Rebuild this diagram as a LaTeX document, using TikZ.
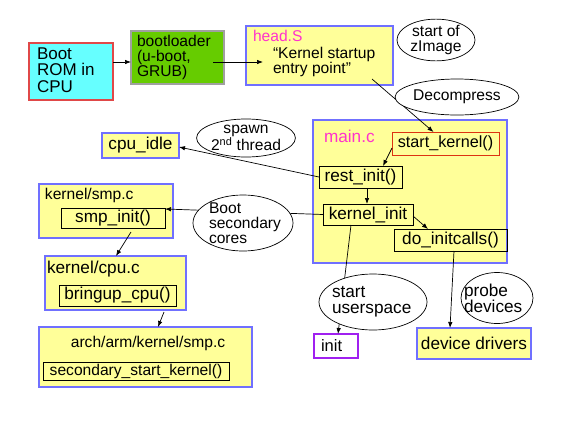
\documentclass[tikz,border=0pt]{standalone}
\usepackage{fontspec}
\setmainfont{Liberation Sans}
\usetikzlibrary{arrows.meta,shapes.geometric}
\definecolor{yfill}{HTML}{FFFF99}
\definecolor{bluebd}{HTML}{7070FF}
\definecolor{cyanfill}{HTML}{66FFFF}
\definecolor{romred}{HTML}{E04848}
\definecolor{greenfill}{HTML}{66CC00}
\definecolor{graybd}{HTML}{A0A0A0}
\definecolor{magtext}{HTML}{FF33CC}
\definecolor{skred}{HTML}{DD3311}
\definecolor{purplebd}{HTML}{A020F0}
\begin{document}
\begin{tikzpicture}[x=1pt,y=-1pt,
  every node/.style={font=\fontsize{15.6}{15}\selectfont, inner sep=0pt, outer sep=0pt},
  big/.style={font=\fontsize{17.2}{16.2}\selectfont},
  ybox/.style={draw=bluebd, line width=1.8pt, fill=yfill, rectangle},
  ibox/.style={draw=black, line width=0.9pt, rectangle},
  oval/.style={draw=black, line width=0.7pt, fill=white, ellipse},
  txt/.style={anchor=west, align=left},
  ctxt/.style={align=center},
  fname/.style={anchor=west, text=magtext},
  arr/.style={draw=black, line width=0.7pt, -{Latex[length=6pt,width=4.5pt]}}
]
\useasboundingbox (0,0) rectangle (576,432);

% boxes
\node[draw=romred, line width=1.6pt, fill=cyanfill, minimum width=84pt, minimum height=57pt] (bootrom) at (71,71.5) {};
\node[txt, big, font=\fontsize{17}{16.5}\selectfont] (bootromt) at (37,70) {Boot\\ROM in\\CPU};

\node[draw=graybd, line width=1.4pt, fill=greenfill, minimum width=93pt, minimum height=53pt] (bootloader) at (177.5,57.5) {};
\node[txt] (bootloadert) at (137,57) {bootloader\\(u-boot,\\GRUB)};

\node[ybox, minimum width=147pt, minimum height=59pt] (headS) at (319.5,55.5) {};
\node[fname] (headSt) at (253,36) {head.S};
\node[txt] (kentry) at (273,62) {“Kernel startup\\entry point”};

\node[ybox, minimum width=194pt, minimum height=143pt] (mainc) at (410,191.5) {};
\node[fname, big] (maint) at (324,136) {main.c};
\node[draw=skred, line width=1pt, rectangle, minimum width=107pt, minimum height=23pt, font=\fontsize{16.2}{16}\selectfont] (startk) at (445.5,143.5) {start\_kernel()};
\node[ibox, big, minimum width=83pt, minimum height=22pt] (restinit) at (360.5,177) {rest\_init()};
\node[ibox, big, minimum width=90pt, minimum height=21pt] (kinit) at (368,214.5) {kernel\_init};
\node[ibox, big, minimum width=113pt, minimum height=22pt] (doinit) at (450.5,240) {do\_initcalls()};

\node[ybox, big, minimum width=77pt, minimum height=25pt] (cpuidle) at (140.5,145.5) {cpu\_idle};

\node[ybox, minimum width=134pt, minimum height=54pt] (smpc) at (106,211) {};
\node[txt] (smpct) at (45,195) {kernel/smp.c};
\node[ibox, big, minimum width=104pt, minimum height=20pt] (smpinit) at (113,218) {smp\_init()};

\node[ybox, minimum width=141pt, minimum height=54pt] (cpuc) at (115.5,283) {};
\node[txt, big] (cpuct) at (47,269) {kernel/cpu.c};
\node[ibox, big, minimum width=117pt, minimum height=21pt] (bringup) at (117.5,295.5) {bringup\_cpu()};

\node[ybox, minimum width=213pt, minimum height=60pt] (archsmp) at (145.5,357) {};
\node[ctxt] (archsmpt) at (148,343) {arch/arm/kernel/smp.c};
\node[ibox, minimum width=186pt, minimum height=18pt] (secstart) at (136,371) {secondary\_start\_kernel()};

\node[draw=purplebd, line width=1.6pt, fill=white, minimum width=44pt, minimum height=24pt] (init) at (336,346) {};
\node[txt, font=\fontsize{16.5}{16}\selectfont] (initt) at (321,346) {init};

\node[ybox, big, minimum width=114pt, minimum height=31pt] (devdrv) at (474,343.5) {device drivers};

% connectors
\draw[arr] ([yshift=9.5pt]bootrom.east) -- ([yshift=-4.5pt]bootloader.west);
\draw[arr] ([xshift=-11pt,yshift=-4.5pt]bootloader.east) -- ([xshift=-10pt]kentry.west);
\draw[arr] ([xshift=52.5pt,yshift=-23.5pt]headS.center) -- ([xshift=-12pt]startk.north);
\draw[arr] ([yshift=-4.5pt]startk.west) -- ([xshift=22.5pt]restinit.north);
\draw[arr] ([xshift=6.5pt]restinit.south) -- ([xshift=6.5pt]restinit.south |- kinit.north);
\draw[arr] ([yshift=-1.5pt]kinit.east) -- ([xshift=-22.5pt]doinit.north);
\draw[arr] (restinit.west) -- ([yshift=-1.5pt]cpuidle.east);
\draw[arr] (kinit.west) -- ([yshift=9pt]smpinit.east);
\draw[arr] ([xshift=18pt,yshift=-4pt]smpinit.south) -- ([xshift=0.5pt]cpuc.north);
\draw[arr] ([xshift=46.5pt,yshift=-6pt]bringup.south) -- ([xshift=12.5pt]archsmp.north);
\draw[arr] ([xshift=-17pt]kinit.south) -- ([xshift=2pt]init.north);
\draw[arr] ([xshift=3.5pt]doinit.south) -- ([xshift=-24pt]devdrv.north);

% ellipses
\node[oval, minimum width=78pt, minimum height=38pt, align=center] (zimage) at (436,40) {start of\\zImage};
\node[oval, minimum width=99pt, minimum height=36pt] (decomp) at (457,97) {Decompress};
\node[oval, minimum width=94pt, minimum height=38pt, align=center] (spawn) at (246,138) {spawn\\2\textsuperscript{nd} thread};
\node[oval, minimum width=100pt, minimum height=56pt] (bootsec) at (243,223) {};
\node[txt] (bootsect) at (209,223) {Boot\\secondary\\cores};
\node[oval, minimum width=108pt, minimum height=56pt] (userspace) at (373,302) {};
\node[txt, big] (userspacet) at (332,302) {start\\userspace};
\node[oval, minimum width=72pt, minimum height=51pt] (probe) at (497,298) {};
\node[txt, big] (probet) at (464,298) {probe\\devices};
\end{tikzpicture}
\end{document}
